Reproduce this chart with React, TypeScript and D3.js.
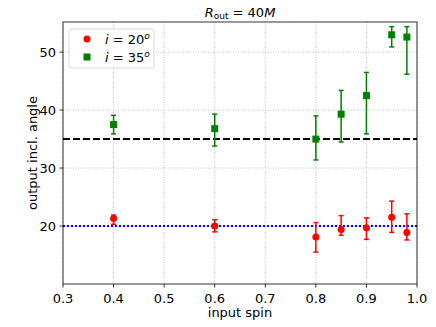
import React from "react";
import * as d3 from "d3";

// spin values
const spins20 = [0.4, 0.6, 0.8, 0.85, 0.9, 0.95, 0.98];
const incl20 = [21.3, 20.0, 18.1, 19.4, 19.7, 21.5, 18.9];
const lo20 = [20.3, 19.0, 15.5, 18.4, 17.7, 18.9, 17.6];
const hi20 = [21.9, 21.1, 20.6, 21.8, 21.4, 24.3, 22.1];

const spins35 = [0.4, 0.6, 0.8, 0.85, 0.9, 0.95, 0.98];
const incl35 = [37.5, 36.8, 35.0, 39.3, 42.5, 53.0, 52.6];
const lo35 = [35.9, 33.8, 31.4, 34.5, 35.9, 50.9, 46.2];
const hi35 = [39.1, 39.3, 39.0, 43.4, 46.5, 54.4, 54.4];

const xTicks = [0.3, 0.4, 0.5, 0.6, 0.7, 0.8, 0.9, 1.0];
const yTicks = [20, 30, 40, 50];

const W = 436;
const H = 327;
const m = { left: 63, right: 19, top: 22, bottom: 43 };

const App = () => {
  const x = d3.scaleLinear().domain([0.3, 1.0]).range([m.left, W - m.right]);
  const y = d3.scaleLinear().domain([10, 55.2]).range([H - m.bottom, m.top]);
  const font = "DejaVu Sans, sans-serif";
  const fs = 13;

  const errBars = (xs: number[], lo: number[], hi: number[], color: string) =>
    xs.map((s, i) => (
      <g key={"e" + color + i} stroke={color} strokeWidth={1.5}>
        <line x1={x(s)} x2={x(s)} y1={y(lo[i])} y2={y(hi[i])} />
        <line x1={x(s) - 2.5} x2={x(s) + 2.5} y1={y(lo[i])} y2={y(lo[i])} />
        <line x1={x(s) - 2.5} x2={x(s) + 2.5} y1={y(hi[i])} y2={y(hi[i])} />
      </g>
    ));

  return (
    <svg width={W} height={H} style={{ position: "absolute", left: 0, top: 0 }} fontFamily={font}>
      <rect width={W} height={H} fill="white" />
      {/* grid */}
      {xTicks.map((t) => (
        <line key={"gx" + t} x1={x(t)} x2={x(t)} y1={m.top} y2={H - m.bottom} stroke="#b0b0b0" strokeWidth={0.8} strokeDasharray="1,1.5" />
      ))}
      {yTicks.map((t) => (
        <line key={"gy" + t} x1={m.left} x2={W - m.right} y1={y(t)} y2={y(t)} stroke="#b0b0b0" strokeWidth={0.8} strokeDasharray="1,1.5" />
      ))}
      {/* reference lines */}
      <line x1={m.left} x2={W - m.right} y1={y(35)} y2={y(35)} stroke="black" strokeWidth={2} strokeDasharray="7,3" />
      <line x1={m.left} x2={W - m.right} y1={y(20)} y2={y(20)} stroke="blue" strokeWidth={2} strokeDasharray="2,2" />
      {errBars(spins20, lo20, hi20, "red")}
      {errBars(spins35, lo35, hi35, "green")}
      {spins20.map((s, i) => (
        <circle key={"c" + i} cx={x(s)} cy={y(incl20[i])} r={3.5} fill="red" />
      ))}
      {spins35.map((s, i) => (
        <rect key={"s" + i} x={x(s) - 3.5} y={y(incl35[i]) - 3.5} width={7} height={7} fill="green" />
      ))}
      {/* frame */}
      <rect x={m.left} y={m.top} width={W - m.left - m.right} height={H - m.top - m.bottom} fill="none" stroke="black" strokeWidth={0.8} />
      {/* ticks */}
      {xTicks.map((t) => (
        <g key={"tx" + t}>
          <line x1={x(t)} x2={x(t)} y1={H - m.bottom} y2={H - m.bottom + 3.5} stroke="black" strokeWidth={0.8} />
          <text x={x(t)} y={H - m.bottom + 19} fontSize={fs} textAnchor="middle">{t.toFixed(1)}</text>
        </g>
      ))}
      {yTicks.map((t) => (
        <g key={"ty" + t}>
          <line x1={m.left - 3.5} x2={m.left} y1={y(t)} y2={y(t)} stroke="black" strokeWidth={0.8} />
          <text x={m.left - 7} y={y(t) + 5} fontSize={fs} textAnchor="end">{t}</text>
        </g>
      ))}
      <text x={(m.left + W - m.right) / 2} y={H - 10} fontSize={fs} textAnchor="middle">input spin</text>
      <text transform={`translate(37,${(m.top + H - m.bottom) / 2}) rotate(-90)`} fontSize={fs} textAnchor="middle">output incl. angle</text>
      {/* title */}
      <text x={(m.left + W - m.right) / 2} y={17} fontSize={fs} textAnchor="middle">
        <tspan fontStyle="italic">R</tspan>
        <tspan fontSize={9} dy={2}>out</tspan>
        <tspan dy={-2}> = 40</tspan>
        <tspan fontStyle="italic">M</tspan>
      </text>
      {/* legend */}
      <rect x={69} y={29} width={85} height={39} rx={2} fill="white" fillOpacity={0.8} stroke="#d0d0d0" strokeWidth={0.8} />
      <circle cx={87} cy={39} r={3.5} fill="red" />
      <rect x={83.5} y={53.5} width={7} height={7} fill="green" />
      {[["20", 44], ["35", 62]].map(([v, yy]) => (
        <text key={"l" + v} x={105} y={yy as number} fontSize={fs}>
          <tspan fontStyle="italic">i</tspan>
          <tspan> = {v}</tspan>
          <tspan fontStyle="italic" fontSize={9} dy={-5}>o</tspan>
        </text>
      ))}
    </svg>
  );
};

export default App;
